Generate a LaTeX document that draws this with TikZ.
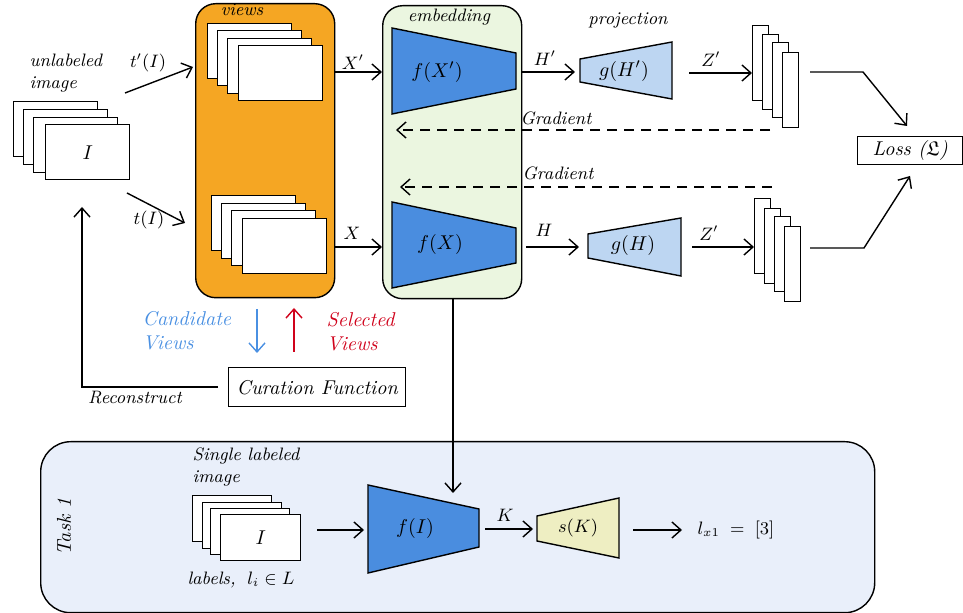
\documentclass[tikz,border=0pt]{standalone}
\usepackage{amssymb}
\usetikzlibrary{arrows.meta}
\definecolor{viewsorange}{HTML}{F5A623}
\definecolor{embedgreen}{HTML}{EBF6E0}
\definecolor{encblue}{HTML}{4A8DDF}
\definecolor{projblue}{HTML}{BDD6F2}
\definecolor{taskbg}{HTML}{E9EFFA}
\definecolor{clsyellow}{HTML}{EEEEC2}
\definecolor{candblue}{HTML}{4A90E2}
\definecolor{selred}{HTML}{D0021B}
\begin{document}
\begin{tikzpicture}[x=0.5pt,y=-0.5pt,line width=0.7pt,
  arr/.style={-{Straight Barb[length=4.5pt,width=8pt,line width=0.7pt]}},
  card/.style={draw,fill=white,anchor=north west,inner sep=0pt,
    minimum width=42pt,minimum height=27.5pt},
  slim/.style={draw,fill=white,anchor=north west,inner sep=0pt,
    minimum width=8pt,minimum height=37.5pt},
  panel/.style={draw,anchor=north west,inner sep=0pt,rounded corners=10pt},
  trap/.style={draw,line width=0.7pt},
  lbl/.style={font=\small\itshape,inner sep=1pt},
  txt/.style={font=\itshape,inner sep=1pt}]
\useasboundingbox (0,0) rectangle (963,613);

% ---------- containers ----------
\node[panel,fill=viewsorange,minimum width=69.5pt,minimum height=147pt] (views) at (195,3) {};
\node[panel,fill=embedgreen,minimum width=69.5pt,minimum height=146.5pt] (embed) at (382,5) {};
\node[panel,fill=taskbg,rounded corners=15pt,minimum width=417pt,minimum height=85.5pt] (task) at (40,441) {};

% ---------- unlabeled image stack ----------
\node[card] (u1) at (13,101) {};
\node[card] (u2) at (23,109) {};
\node[card] (u3) at (33,117) {};
\node[card] (u4) at (45,124) {};
\node[txt] at (u4.center) {$I$};
\node[lbl,anchor=west,align=left] (unl) at (27,73) {unlabeled\\image};

% ---------- view stacks ----------
\node[card] (a1) at (207,23) {};
\node[card] (a2) at (217,30) {};
\node[card] (a3) at (227,38) {};
\node[card] (a4) at (238,45) {};
\node[card] (b1) at (211,195) {};
\node[card] (b2) at (221,203) {};
\node[card] (b3) at (231,210) {};
\node[card] (b4) at (242,218) {};
\node[lbl] at (242,10) {views};

% transformations
\coordinate (tp0) at (125,93);  \coordinate (tp1) at (193,67);
\coordinate (t0) at (127,193);  \coordinate (t1) at (185,223);
\draw[arr] (tp0) -- (tp1);
\draw[arr] (t0) -- (t1);
\node[lbl] at (148,63) {$t'(I)$};
\node[lbl] at (149,220) {$t(I)$};

% ---------- encoders ----------
\node[lbl] at (449,17) {embedding};
\draw[trap,fill=encblue] (392,28) -- (516,53) -- (516,89) -- (392,114) -- cycle;
\draw[trap,fill=encblue] (392,202) -- (516,228) -- (516,263) -- (392,288) -- cycle;
\node[txt] (fxp) at (437,72) {$f(X')$};
\node[txt] (fx) at (440,245) {$f(X)$};
\coordinate (fxpR) at (521,72);
\coordinate (fxR) at (521,247);

\draw[arr] (views.east |- 0,72) -- (embed.west |- 0,72);
\draw[arr] (views.east |- 0,247) -- (embed.west |- 0,247);
\node[lbl] at (353,62) {$X'$};
\node[lbl] at (352,233) {$X$};

% ---------- projection heads ----------
\node[lbl] at (628,20) {projection};
\draw[trap,fill=projblue] (580,59) -- (672,42) -- (672,99) -- (580,82) -- cycle;
\draw[trap,fill=projblue] (588,234) -- (681,218) -- (681,276) -- (588,258) -- cycle;
\node[txt] (ghp) at (624,71) {$g(H')$};
\node[txt] (gh) at (633,246) {$g(H)$};
\coordinate (ghpL) at (575,72);
\coordinate (ghL) at (579,247);
\draw[arr] (fxpR) -- (ghpL);
\draw[arr] (526,247) -- (ghL);
\node[lbl] at (545,58) {$H'$};
\node[lbl] at (544,230) {$H$};

% ---------- output stacks ----------
\node[slim] (z1) at (752,25) {};
\node[slim] (z2) at (762,34) {};
\node[slim] (z3) at (772,42) {};
\node[slim] (z4) at (782,52) {};
\node[slim] (w1) at (754,198) {};
\node[slim] (w2) at (764,208) {};
\node[slim] (w3) at (774,216) {};
\node[slim] (w4) at (784,226) {};
\draw[arr] (689,73) -- (z1.west |- 0,73);
\draw[arr] (692,247) -- (w1.west |- 0,247);
\node[lbl] at (711,59) {$Z'$};
\node[lbl] at (709,233) {$Z'$};

% ---------- loss ----------
\node[draw,fill=white,anchor=north west,inner sep=0pt,minimum width=52.5pt,
  minimum height=14pt,txt] (loss) at (857,136) {Loss ($\mathfrak{L}$)};
\coordinate (lt) at (907,126);
\coordinate (lb) at (910,176);
\draw[arr] (810,72) -- (863,72) -- (lt);
\draw[arr] (810,248) -- (864,248) -- (lb);

% ---------- gradients ----------
\draw[arr,dashed,dash pattern=on 5pt off 3.5pt] (770,130) -- (396,130);
\draw[arr,dashed,dash pattern=on 5pt off 3.5pt] (772,187) -- (400,187);
\node[lbl] at (556,118) {Gradient};
\node[lbl] at (558,173) {Gradient};

% ---------- curation loop ----------
\node[draw,fill=white,anchor=north west,inner sep=0pt,minimum width=88.5pt,
  minimum height=19.5pt,txt] (cur) at (228,367) {Curation Function};
\coordinate (cb0) at (257,309); \coordinate (cb1) at (257,353);
\coordinate (sr0) at (294,352); \coordinate (sr1) at (294,308);
\draw[arr,candblue] (cb0) -- (cb1);
\draw[arr,selred] (sr0) -- (sr1);
\node[txt,text=candblue,anchor=west,align=left] at (140,331) {Candidate\\Views};
\node[txt,text=selred,anchor=west,align=left] at (324,332) {Selected\\Views};
\coordinate (rc) at (82,207);
\draw[arr] ([xshift=-5pt]cur.west) -| (rc);
\node[lbl] at (135,398) {Reconstruct};

% ---------- downstream task ----------
\node[txt,rotate=90] at (64,527) {Task 1};
\node[lbl,anchor=west,align=left] at (190,467) {Single labeled\\image};
\node[card,minimum width=39.5pt,minimum height=23pt] (s1) at (192,495) {};
\node[card,minimum width=39.5pt,minimum height=23pt] (s2) at (202,502) {};
\node[card,minimum width=39.5pt,minimum height=23pt] (s3) at (210,508) {};
\node[card,minimum width=40pt,minimum height=23pt] (s4) at (220,514) {};
\node[txt] at (s4.center) {$I$};
\node[lbl] at (241,580) {labels, $\;l_i\in L$};

\draw[trap,fill=encblue] (368,485) -- (479,509) -- (479,547) -- (368,573) -- cycle;
\node[txt] (fi) at (415,529) {$f(I)$};
\coordinate (fiL) at (364,530);
\coordinate (embOut) at (453,298);
\coordinate (fiTop) at (453,493);
\draw[arr] (embOut) -- (fiTop);
\draw[arr] (317,530) -- (fiL);

\draw[trap,fill=clsyellow] (537,516) -- (619,498) -- (619,558) -- (537,541) -- cycle;
\node[lbl] (sk) at (578,528) {$s(K)$};
\draw[arr] (485,529) -- (533,529);
\node[lbl] at (505,515) {$K$};
\draw[arr] (633,530) -- (682,530);
\node[lbl,anchor=west] (out) at (695,530) {$l_{x1}\;=\;[3]$};
\end{tikzpicture}
\end{document}
